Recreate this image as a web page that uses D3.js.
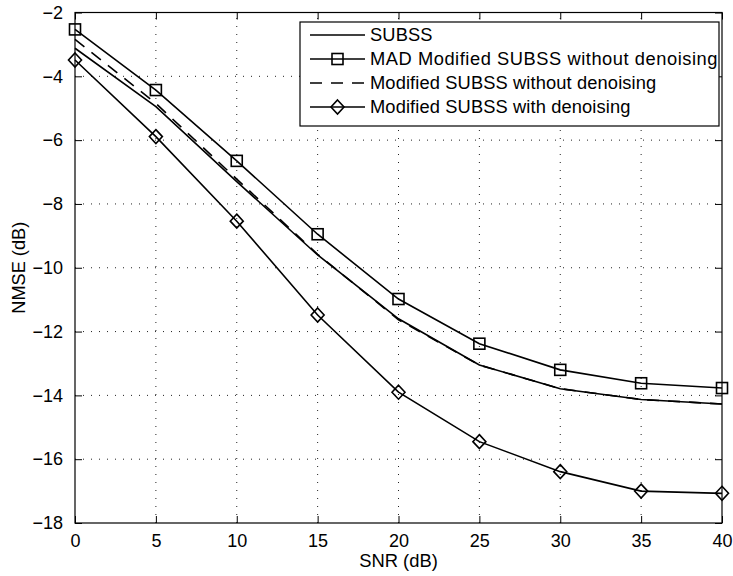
<!DOCTYPE html>
<html><head><meta charset="utf-8">
<script src="https://cdn.jsdelivr.net/npm/d3@7"></script>
<style>body{margin:0;background:#fff}svg{display:block}text{font-family:"Liberation Sans",Arial,Helvetica,sans-serif}</style>
</head><body>
<script>
const snr = [0,5,10,15,20,25,30,35,40];
const subss = [-3.12,-4.95,-7.3,-9.6,-11.6,-13.05,-13.79,-14.13,-14.27];
const madNoDenoise = [-2.53,-4.43,-6.65,-8.95,-10.98,-12.38,-13.2,-13.62,-13.77];
const modNoDenoise = [-2.84,-4.85,-7.22,-9.58,-11.63,-13.05,-13.79,-14.13,-14.27];
const modDenoise = [-3.49,-5.89,-8.54,-11.48,-13.9,-15.45,-16.39,-17.0,-17.07];
const xTicks = [0,5,10,15,20,25,30,35,40];
const yTicks = [-18,-16,-14,-12,-10,-8,-6,-4,-2];
const seriesNames = ["SUBSS","MAD Modified SUBSS without denoising","Modified SUBSS without denoising","Modified SUBSS with denoising"];

const W=733,H=576;
const m={l:75,r:11,t:12.5,b:53};
const svg=d3.select("body").append("svg").attr("width",W).attr("height",H);
const x=d3.scaleLinear().domain([0,40]).range([m.l,W-m.r]);
const y=d3.scaleLinear().domain([-18,-2]).range([H-m.b,m.t]);
const fs=18, tl=7;
const minus=v=>String(v).replace("-","\u2212");

// grid
const g=svg.append("g");
g.selectAll(".gx").data(xTicks.slice(1,-1)).enter().append("line")
 .attr("x1",d=>x(d)).attr("x2",d=>x(d)).attr("y1",y(-18)).attr("y2",y(-2))
 .attr("stroke","#222").attr("stroke-width",1).attr("stroke-dasharray","1,7");
g.selectAll(".gy").data(yTicks.slice(1,-1)).enter().append("line")
 .attr("y1",d=>y(d)).attr("y2",d=>y(d)).attr("x1",x(0)).attr("x2",x(40))
 .attr("stroke","#222").attr("stroke-width",1).attr("stroke-dasharray","1,7");

// axes
const ax=svg.append("g").attr("transform",`translate(0,${y(-18)})`)
 .call(d3.axisBottom(x).tickValues(xTicks).tickSize(-tl).tickPadding(tl+4).tickFormat(d=>minus(d)));
const axT=svg.append("g").attr("transform",`translate(0,${y(-2)})`)
 .call(d3.axisTop(x).tickValues(xTicks).tickSize(-tl).tickFormat(""));
const ay=svg.append("g").attr("transform",`translate(${x(0)},0)`)
 .call(d3.axisLeft(y).tickValues(yTicks).tickSize(-tl).tickPadding(tl+5).tickFormat(d=>minus(d)));
const ayR=svg.append("g").attr("transform",`translate(${x(40)},0)`)
 .call(d3.axisRight(y).tickValues(yTicks).tickSize(-tl).tickFormat(""));
[ax,axT,ay,ayR].forEach(a=>{
  a.select(".domain").remove();
  a.selectAll("line").attr("stroke","#000").attr("stroke-width",1);
  a.selectAll("text").attr("font-size",fs).attr("fill","#000").attr("font-family","Liberation Sans, Arial, sans-serif");
});
ax.selectAll("text").attr("dy","0.71em");
svg.append("rect").attr("x",x(0)).attr("y",y(-2)).attr("width",x(40)-x(0)).attr("height",y(-18)-y(-2))
 .attr("fill","none").attr("stroke","#000").attr("stroke-width",1.2);

// labels
svg.append("text").attr("x",(x(0)+x(40))/2).attr("y",567).attr("text-anchor","middle").attr("font-size",fs+0.4).text("SNR (dB)");
svg.append("text").attr("transform",`translate(25,${(y(-2)+y(-18))/2}) rotate(-90)`).attr("text-anchor","middle").attr("font-size",fs+0.2).text("NMSE (dB)");

// lines
const line=d3.line().x((d,i)=>x(snr[i])).y(d=>y(d));
const data=[subss,madNoDenoise,modNoDenoise,modDenoise];
const dashes=[null,null,"12,9",null];
const markers=[null,"square",null,"diamond"];
data.forEach((s,k)=>{
  svg.append("path").attr("d",line(s)).attr("fill","none").attr("stroke","#000").attr("stroke-width",1.6)
   .attr("stroke-dasharray",dashes[k]);
});
function drawMarker(sel,type,cx,cy){
  if(type==="square") sel.append("rect").attr("x",cx-5.5).attr("y",cy-5.5).attr("width",11).attr("height",11)
    .attr("fill","none").attr("stroke","#000").attr("stroke-width",1.6);
  if(type==="diamond") sel.append("path").attr("d",`M${cx},${cy-7}L${cx+6.5},${cy}L${cx},${cy+7}L${cx-6.5},${cy}Z`)
    .attr("fill","none").attr("stroke","#000").attr("stroke-width",1.6);
}
data.forEach((s,k)=>{ if(markers[k]) s.forEach((v,i)=>drawMarker(svg,markers[k],x(snr[i]),y(v))); });

// legend
const lg=svg.append("g");
lg.append("rect").attr("x",300).attr("y",22).attr("width",419).attr("height",104).attr("fill","#fff").attr("stroke","#000").attr("stroke-width",1.2);
seriesNames.forEach((n,k)=>{
  const yy=35+k*24;
  lg.append("line").attr("x1",310).attr("x2",365).attr("y1",yy).attr("y2",yy).attr("stroke","#000").attr("stroke-width",1.6)
   .attr("stroke-dasharray",dashes[k]);
  if(markers[k]) drawMarker(lg,markers[k],337.5,yy);
  lg.append("text").attr("x",370).attr("y",yy).attr("dy","0.35em").attr("font-size",fs+0.3)
   .attr("letter-spacing",k===1?0.55:0.12).text(n);
});
</script>
</body></html>
